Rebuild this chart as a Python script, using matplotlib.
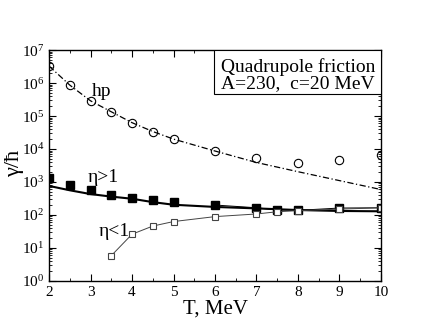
import matplotlib
matplotlib.use('Agg')
import matplotlib.pyplot as plt
from matplotlib.patches import Rectangle
from matplotlib.ticker import LogLocator, MultipleLocator, NullFormatter

# data
hp_T = [2, 2.5, 3, 3.5, 4, 4.5, 5, 6, 7, 8, 9, 10]
hp_points = [3.3e6, 8.7e5, 2.9e5, 1.35e5, 6.3e4, 3.4e4, 2.0e4, 9.0e3, 5.2e3, 3.9e3, 4.5e3, 6.6e3]
hp_curve = [3.3e6, 8.7e5, 2.9e5, 1.35e5, 6.3e4, 3.4e4, 2.0e4, 8.7e3, 3.9e3, 2.05e3, 1.1e3, 5.9e2]

gt_T = [2, 2.5, 3, 3.5, 4, 4.5, 5, 6, 7, 7.5, 8, 9, 10]
gt_points = [1300, 830, 560, 400, 330, 280, 250, 200, 165, 141, 138, 162, 165]

curve_T = [2, 2.5, 3, 3.5, 4, 4.5, 5, 6, 7, 8, 9, 10]
gt_curve = [760, 560, 430, 360, 310, 245, 204, 175, 158, 141, 132, 129]

lt_T = [3.5, 4, 4.5, 5, 6, 7, 7.5, 8, 9, 10]
lt_points = [5.8, 26, 46, 63, 89, 107, 125, 135, 150, 165]

plt.rcParams['font.family'] = ['Liberation Serif', 'DejaVu Serif']
plt.rcParams['mathtext.fontset'] = 'stix'

fig = plt.figure(figsize=(4.3, 3.32), dpi=100)
ax = fig.add_axes([0.114, 0.154, 0.772, 0.695])

ax.plot(hp_T, hp_curve, color='black', lw=0.9, dashes=(5, 2, 1, 2))
ax.plot(hp_T, hp_points, 'o', mfc='none', mec='black', ms=6, mew=0.8)

ax.plot(curve_T, gt_curve, color='black', lw=1.5)
ax.plot(gt_T[7:], gt_points[7:], color='black', lw=0.7)
ax.plot(gt_T, gt_points, 's', color='black', ms=5.5)

ax.plot(lt_T, lt_points, color='#444444', lw=0.7, marker='s', mfc='white',
        mec='#444444', ms=5, mew=0.8)

ax.set_yscale('log')
ax.set_xlim(2, 10)
ax.set_ylim(1, 1e7)
ax.xaxis.set_major_locator(MultipleLocator(1))
ax.xaxis.set_minor_locator(MultipleLocator(0.5))
ax.yaxis.set_major_locator(LogLocator(base=10, numticks=10))
ax.yaxis.set_minor_locator(LogLocator(base=10, subs=range(2, 10), numticks=20))
ax.yaxis.set_minor_formatter(NullFormatter())
ax.tick_params(which='both', direction='in', top=True, right=True, labelsize=11)
ax.tick_params(which='major', length=5, width=0.8)
ax.tick_params(which='minor', length=2.5, width=0.6)
ax.tick_params(axis='x', pad=4)
for s in ax.spines.values():
    s.set_linewidth(1.0)

ax.set_xlabel('T, MeV', fontsize=15, labelpad=0)
ax.set_ylabel('γ/ħ', fontsize=16)
ax.yaxis.set_label_coords(-0.076, 0.51)

ax.text(0.13, 0.80, 'hp', transform=ax.transAxes, fontsize=14)
ax.text(0.115, 0.43, 'η>1', transform=ax.transAxes, fontsize=14)
ax.text(0.148, 0.195, 'η<1', transform=ax.transAxes, fontsize=14)

ax.add_patch(Rectangle((0.497, 0.81), 0.503, 0.19, transform=ax.transAxes,
                       fc='white', ec='black', lw=0.8, zorder=5))
ax.text(0.75, 0.905, 'Quadrupole friction', transform=ax.transAxes,
        fontsize=14, ha='center', zorder=6)
ax.text(0.75, 0.835, 'A=230,  c=20 MeV', transform=ax.transAxes,
        fontsize=14, ha='center', zorder=6)

fig.savefig('out.png', dpi=100)
